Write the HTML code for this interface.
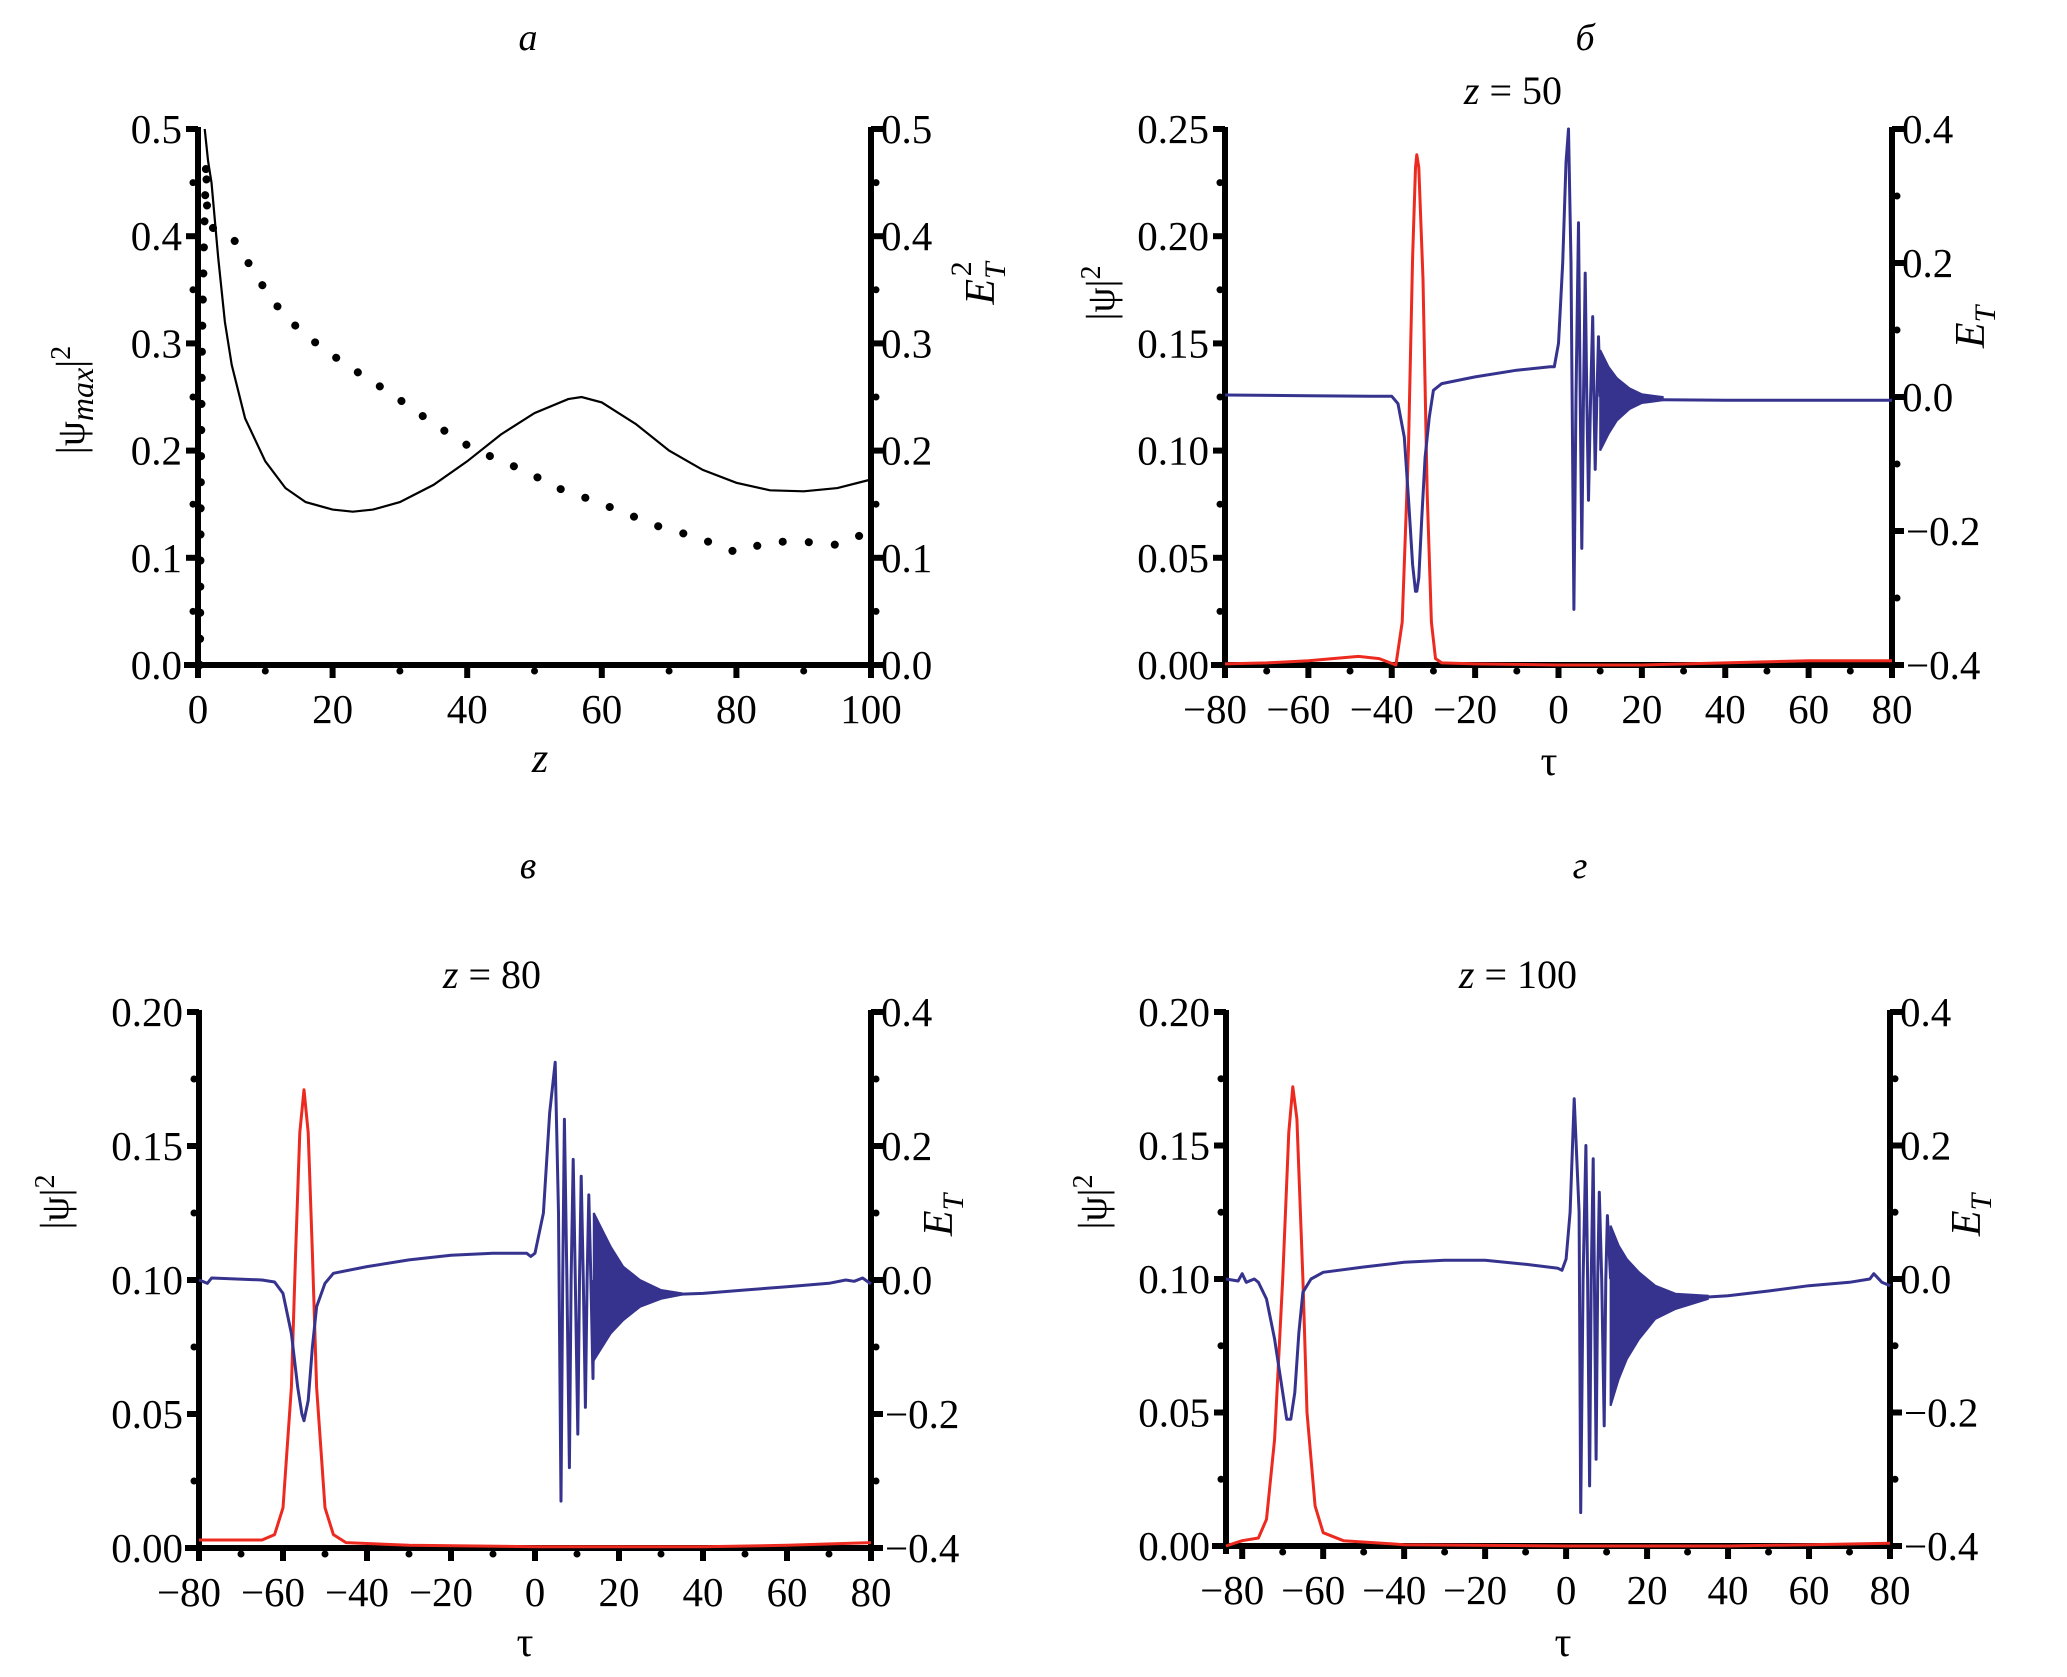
<!DOCTYPE html>
<html><head><meta charset="utf-8">
<style>
html,body{margin:0;padding:0;background:#fff;}
svg{display:block;font-family:"Liberation Serif",serif;}
</style></head>
<body>
<svg id="fig" width="2067" height="1677" viewBox="0 0 2067 1677" xmlns="http://www.w3.org/2000/svg"></svg>
<script>
// ---------- Panel a data ----------
const aSolidZ = [1,1.5,2,3,4,5,7,10,13,16,20,23,26,30,35,40,45,50,55,57,60,65,70,75,80,85,90,95,100];
const aSolidV = [0.5,0.47,0.45,0.38,0.32,0.28,0.23,0.19,0.165,0.152,0.145,0.143,0.145,0.152,0.168,0.19,0.215,0.235,0.248,0.25,0.245,0.225,0.2,0.182,0.17,0.163,0.162,0.165,0.173];
const aDotZ = [0.3,0.4,0.6,0.9,1.2,1.4,5,8,11,15,18,22,27,31,35,40,44,49,53,58,63,68,70,75,80,85,90,95,100];
const aDotV = [0.0,0.15,0.3,0.4,0.47,0.41,0.4,0.37,0.34,0.313,0.298,0.28,0.26,0.243,0.225,0.205,0.193,0.18,0.166,0.155,0.143,0.13,0.127,0.117,0.105,0.115,0.115,0.112,0.125];
const aYTicks = ["0.0","0.1","0.2","0.3","0.4","0.5"];
const aXTicks = ["0","20","40","60","80","100"];

// ---------- Panel б data (z = 50) ----------
const bRedT = [-80,-70,-60,-48,-43,-39,-37.5,-36,-35,-34.3,-34,-33.5,-32.5,-31.5,-30.5,-29.5,-28,-20,0,20,40,60,80];
const bRedV = [0.0005,0.001,0.002,0.004,0.003,0.0,0.02,0.1,0.19,0.232,0.238,0.232,0.18,0.08,0.02,0.003,0.001,0.0005,0.0,0.0,0.001,0.002,0.002];
const bBlueT = [-80,-60,-45,-40,-38.5,-37,-36,-35,-34.3,-34,-33.5,-32.8,-32,-31,-30,-28,-20,-10,-2,-1,0,1,1.8,2.4,3,3.7,4.2,4.8,5.2,5.6,6,6.4,6.8,7.2,7.7,8.2,8.5,8.8,9.2,9.6,10];
const bBlueV = [0.003,0.002,0.001,0.001,-0.01,-0.06,-0.15,-0.25,-0.29,-0.29,-0.27,-0.18,-0.09,-0.03,0.01,0.02,0.03,0.04,0.045,0.045,0.08,0.2,0.35,0.4,0.2,-0.317,0,0.26,0,-0.226,0,0.185,0,-0.154,0,0.12,0,-0.108,0,0.09,0];
const bBandT = [10,12,14,17,20,25];
const bBandUp = [0.07,0.045,0.028,0.013,0.004,0.0];
const bBandLo = [-0.08,-0.055,-0.035,-0.018,-0.009,-0.005];
const bTailT = [25,40,60,80];
const bTailV = [-0.004,-0.005,-0.005,-0.005];

// ---------- Panel в data (z = 80) ----------
const cRedT = [-80,-65,-62,-60,-58,-57,-56,-55,-54,-53,-52,-50,-48,-45,-30,0,40,60,80];
const cRedV = [0.003,0.003,0.005,0.015,0.06,0.11,0.155,0.171,0.155,0.11,0.06,0.015,0.005,0.002,0.001,0.0005,0.0005,0.001,0.002];
const cBlueT = [-80,-78,-77,-65,-62,-60,-58,-56.5,-55.5,-55,-54,-53,-52,-50,-48,-40,-30,-20,-10,-2,-1,0,2,3.5,4.8,5.6,6.2,6.6,7,7.6,8.2,8.6,9.1,9.6,10.2,10.6,11,11.5,12,12.4,12.8,13.3,13.8,14];
const cBlueV = [0.0,-0.005,0.003,0.0,-0.003,-0.02,-0.08,-0.16,-0.2,-0.21,-0.18,-0.1,-0.04,-0.005,0.01,0.02,0.03,0.037,0.04,0.04,0.035,0.04,0.1,0.25,0.325,0.1,-0.33,0,0.24,0,-0.28,0,0.18,0,-0.23,0,0.155,0,-0.19,0,0.127,0,-0.147,0];
const cBandT = [14,16,18,21,25,30,35];
const cBandUp = [0.1,0.075,0.05,0.02,0.0,-0.015,-0.02];
const cBandLo = [-0.12,-0.1,-0.08,-0.06,-0.04,-0.028,-0.022];
const cTailT = [35,40,50,60,70,74,76,78,80];
const cTailV = [-0.021,-0.02,-0.015,-0.01,-0.005,0.0,-0.002,0.003,-0.006];

// ---------- Panel г data (z = 100) ----------
const dRedT = [-84,-82,-80,-76,-74,-72,-70,-68.5,-67.5,-66.5,-65,-64,-62,-60,-55,-40,0,40,60,80];
const dRedV = [0.0,0.001,0.002,0.003,0.01,0.04,0.1,0.155,0.172,0.16,0.1,0.05,0.015,0.005,0.002,0.0005,0.0,0.0,0.0005,0.001];
const dBlueT = [-84,-81,-80,-79,-77,-76,-74,-72,-70,-69,-68,-67,-66,-65,-63,-60,-50,-40,-30,-20,-10,-2,-1,0,1,2,3.2,3.6,4.2,4.9,5.3,5.8,6.2,6.7,7,7.4,7.8,8.2,8.8,9.4,9.8,10.2,11];
const dBlueV = [0.0,-0.003,0.008,-0.005,0.0,-0.005,-0.03,-0.09,-0.17,-0.21,-0.21,-0.17,-0.08,-0.02,0.0,0.01,0.018,0.025,0.028,0.028,0.022,0.016,0.013,0.03,0.1,0.27,0.1,-0.35,0,0.2,0,-0.31,0,0.18,0,-0.27,0,0.13,0,-0.22,0,0.095,0];
const dBandT = [11,13,15,18,22,27,35];
const dBandUp = [0.08,0.05,0.03,0.01,-0.01,-0.022,-0.025];
const dBandLo = [-0.19,-0.15,-0.12,-0.09,-0.06,-0.045,-0.03];
const dTailT = [35,40,50,60,70,75,76,78,80];
const dTailV = [-0.027,-0.025,-0.018,-0.01,-0.005,0.0,0.008,-0.005,-0.01];

const tauTicks = ["−80","−60","−40","−20","0","20","40","60","80"];
const etTicks = ["−0.4","−0.2","0.0","0.2","0.4"];
const psiTicks25 = ["0.00","0.05","0.10","0.15","0.20","0.25"];
const psiTicks20 = ["0.00","0.05","0.10","0.15","0.20"];

const FS = 41;
const NS = "http://www.w3.org/2000/svg";
const svg = document.getElementById('fig');
function el(tag, attrs, parent){
  const e = document.createElementNS(NS, tag);
  for (const k in attrs) e.setAttribute(k, attrs[k]);
  (parent||svg).appendChild(e);
  return e;
}
function num(s){ return parseFloat(s.replace('−','-')); }
function lin(d0,d1,r0,r1){ return v => r0 + (v-d0)/(d1-d0)*(r1-r0); }
function pathFrom(xs, ys, sx, sy){
  let d='';
  for(let i=0;i<xs.length;i++) d += (i?'L':'M') + sx(xs[i]).toFixed(1)+','+sy(ys[i]).toFixed(1);
  return d;
}
function text(g, x, y, str, opts){
  const t = el('text', Object.assign({x:x, y:y, 'font-size':FS, fill:'#000'}, opts||{}), g);
  t.textContent = str;
  return t;
}

function drawAxes(g, P){
  const {x0,x1,y0,y1} = P;
  const la = el('line',{x1:x0,y1:y0-2,x2:x0,y2:y1+8,stroke:'#000','stroke-width':6},g);
   
  const ra = el('line',{x1:x1,y1:y0-2,x2:x1,y2:y1+8,stroke:'#000','stroke-width':6},g);
   
  const ba = el('line',{x1:x0-14,y1:y1,x2:x1+3,y2:y1,stroke:'#000','stroke-width':6},g);
   
  const ly = lin(P.lDom[0],P.lDom[1],y1,y0);
  P.lTicks.forEach((lab,i)=>{
    const v = num(lab), y = ly(v);
    el('line',{x1:x0-12,y1:y,x2:x0,y2:y,stroke:'#000','stroke-width':6},g);
    const t = text(g, x0-16, y+14, lab, {'text-anchor':'end'});
     
    if(i<P.lTicks.length-1){
      const vm = (v + num(P.lTicks[i+1]))/2;
      el('circle',{cx:x0-5,cy:ly(vm),r:3.5,fill:'#000'},g);
    }
  });
  const ry = lin(P.rDom[0],P.rDom[1],y1,y0);
  P.rTicks.forEach((lab,i)=>{
    const v = num(lab), y = ry(v);
    el('line',{x1:x1,y1:y,x2:x1+12,y2:y,stroke:'#000','stroke-width':6},g);
    const t = text(g, x1+(lab[0]==='−'?14:10), y+14, lab, {});
     
    if(i<P.rTicks.length-1){
      const vm = (v + num(P.rTicks[i+1]))/2;
      el('circle',{cx:x1+5,cy:ry(vm),r:3.5,fill:'#000'},g);
    }
  });
  const sx = lin(P.xDom[0],P.xDom[1],x0,x1);
  P.xTicks.forEach((lab,i)=>{
    const v = num(lab), x = sx(v);
    el('line',{x1:x,y1:y1,x2:x,y2:y1+13,stroke:'#000','stroke-width':6},g);
    const t = text(g, x + (lab[0]==='−'?-10:0), y1+58, lab, {'text-anchor':'middle'});
     
    if(i<P.xTicks.length-1){
      const vm = (v + num(P.xTicks[i+1]))/2;
      el('circle',{cx:sx(vm),cy:y1+6,r:3.5,fill:'#000'},g);
    }
  });
  return {sx, ly, ry};
}

function panelTitles(g, P){
  const l = text(g, P.letterX, P.letterY, P.letter, {'font-style':'italic','text-anchor':'middle','font-size':38});
   
  if(P.zText){
    const t = el('text',{x:P.zX,y:P.zY,'font-size':40,'text-anchor':'middle'},g);
     
    const a = el('tspan',{'font-style':'italic'},t); a.textContent='z';
    const b = el('tspan',{},t); b.textContent=' = '+P.zText;
  }
}

function tauLabel(g, x, y){
  const t = text(g, x, y, 'τ', {'text-anchor':'middle','font-size':42});
   
}
function psiLabel(g, x, y){
  const t = el('text',{x:0,y:0,'font-size':40,'text-anchor':'middle',transform:`translate(${x},${y}) rotate(-90)`},g);
   
  const a = el('tspan',{},t); a.textContent='|ψ|';
  const b = el('tspan',{dy:-14,'font-size':28},t); b.textContent='2';
}
function etLabel(g, x, y, sq){
  const t = el('text',{x:0,y:0,'font-size':42,'text-anchor':'middle','font-style':'italic',transform:`translate(${x},${y}) rotate(-90)`},g);
   
  const a = el('tspan',{},t); a.textContent='E';
  const b = el('tspan',{dy:11,'font-size':30},t); b.textContent='T';
  if(sq){ const c = el('tspan',{dx:-14,dy:-34,'font-size':30,'font-style':'normal'},t); c.textContent='2'; }
}

// ----- Panel a -----
(function(){
  const g = el('g',{});
   
  const P = {x0:198,x1:871,y0:129,y1:665,xDom:[0,100],lDom:[0,0.5],rDom:[0,0.5],
    lTicks:aYTicks,rTicks:aYTicks,xTicks:aXTicks,letter:'а',letterX:528,letterY:50};
  panelTitles(g,P);
  const {sx,ly,ry} = drawAxes(g,P);
  const s = el('path',{d:pathFrom(aSolidZ,aSolidV,sx,ly),fill:'none',stroke:'#000','stroke-width':2.2},g);
   
  const d = el('path',{d:pathFrom(aDotZ,aDotV,sx,ry),fill:'none',stroke:'#000','stroke-width':8,'stroke-linecap':'round','stroke-dasharray':'0.1 26'},g);
   
  const zt = text(g, 540, 772, 'z', {'font-style':'italic','text-anchor':'middle','font-size':42});
   
  const t = el('text',{x:0,y:0,'font-size':40,'text-anchor':'middle',transform:'translate(84,400) rotate(-90)'},g);
   
  const a1 = el('tspan',{},t); a1.textContent='|ψ';
  const a2 = el('tspan',{dy:9,'font-style':'italic','font-size':32},t); a2.textContent='max';
  const a3 = el('tspan',{dy:-9},t); a3.textContent='|';
  const a4 = el('tspan',{dy:-14,'font-size':28},t); a4.textContent='2';
  etLabel(g, 994, 283, true);
})();

function tauPanel(name, P, red, blue, band, tail, labels){
  const g = el('g',{});
   
  panelTitles(g,P);
  const {sx,ly,ry} = drawAxes(g,P);
  const r = el('path',{d:pathFrom(red[0],red[1],sx,ly),fill:'none',stroke:'#ec2a20','stroke-width':3,'stroke-linejoin':'round'},g);
   
  const b = el('path',{d:pathFrom(blue[0],blue[1],sx,ry)+pathFrom(tail[0],tail[1],sx,ry),fill:'none',stroke:'#36338f','stroke-width':3,'stroke-linejoin':'round'},g);
   
  let d='';
  for(let i=0;i<band[0].length;i++) d += (i?'L':'M')+sx(band[0][i]).toFixed(1)+','+ry(band[1][i]).toFixed(1);
  for(let i=band[0].length-1;i>=0;i--) d += 'L'+sx(band[0][i]).toFixed(1)+','+ry(band[2][i]).toFixed(1);
  d+='Z';
  const bd = el('path',{d:d,fill:'#36338f',stroke:'#36338f','stroke-width':2},g);
   
  tauLabel(g, labels.tauX, labels.tauY);
  psiLabel(g, labels.psiX, labels.psiY);
  etLabel(g, labels.etX, labels.etY, false);
}

tauPanel('panel-b',
  {x0:1225,x1:1892,y0:129,y1:665,xDom:[-80,80],lDom:[0,0.25],rDom:[-0.4,0.4],
   lTicks:psiTicks25,rTicks:etTicks,xTicks:tauTicks,letter:'б',letterX:1585,letterY:50,zText:'50',zX:1513,zY:104},
  [bRedT,bRedV],[bBlueT,bBlueV],[bBandT,bBandUp,bBandLo],[bTailT,bTailV],
  {tauX:1549,tauY:775,psiX:1114,psiY:293,etX:1984,etY:327});

tauPanel('panel-c',
  {x0:199,x1:871,y0:1012,y1:1548,xDom:[-80,80],lDom:[0,0.2],rDom:[-0.4,0.4],
   lTicks:psiTicks20,rTicks:etTicks,xTicks:tauTicks,letter:'в',letterX:528,letterY:878,zText:'80',zX:492,zY:988},
  [cRedT,cRedV],[cBlueT,cBlueV],[cBandT,cBandUp,cBandLo],[cTailT,cTailV],
  {tauX:525,tauY:1656,psiX:68,psiY:1202,etX:952,etY:1215});

tauPanel('panel-d',
  {x0:1226,x1:1890,y0:1012,y1:1546,xDom:[-84,80],lDom:[0,0.2],rDom:[-0.4,0.4],
   lTicks:psiTicks20,rTicks:etTicks,xTicks:tauTicks,letter:'г',letterX:1580,letterY:878,zText:'100',zX:1518,zY:988},
  [dRedT,dRedV],[dBlueT,dBlueV],[dBandT,dBandUp,dBandLo],[dTailT,dTailV],
  {tauX:1563,tauY:1656,psiX:1106,psiY:1202,etX:1980,etY:1215});
</script>
</body></html>
